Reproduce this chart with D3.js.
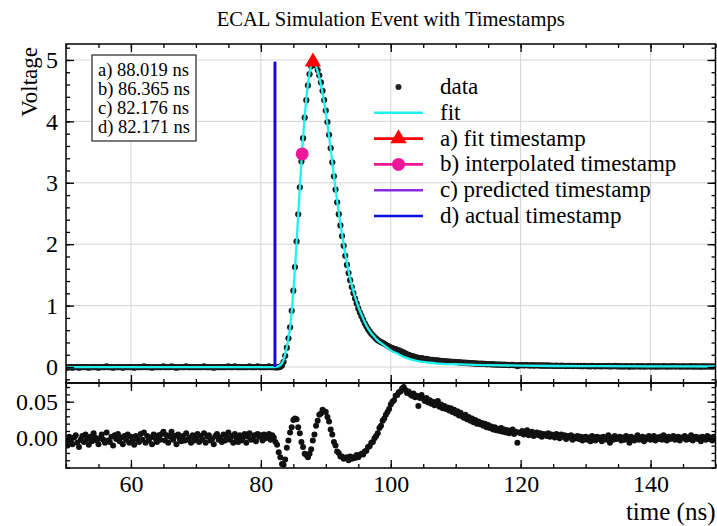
<!DOCTYPE html>
<html>
<head>
<meta charset="utf-8">
<script src="https://cdn.jsdelivr.net/npm/d3@7"></script>
<style>
  body { margin: 0; background: #fff; }
  svg { font-family: "Liberation Serif", "DejaVu Serif", serif; }
</style>
</head>
<body>
<svg id="chart" width="717" height="526"></svg>
<script>
// samples every 0.25 ns from 50 to 149.75 ns
const times = d3.range(400).map(i => 50 + i * 0.25);

const voltage = [
  0,-0.01,0,0,-0.01,0,0,0,-0.01,0,0,0,0,0,-0.01,0,0,0,0,0,
  -0.01,0,0,0,0,0.01,0,0,0,-0.01,0,0,0,0,0,-0.01,0,0,0,0,
  0,0,-0.01,0,0,0,0,0,0.01,0,0,0,0,-0.01,0,0,0,0,0,0,
  0.01,0,0,0,0,0.01,0,0,-0.01,0,0,0,0,0,0.01,0,0,0,0,0,
  0,0,0,0,0,0.01,0,0,0,0,0,-0.01,0,0,0,0,0,0,0,0,
  0.01,0,0,0,0.01,0,0,0,0,0,0,0,0,0.01,0,0,0,0,0.01,0,
  0,0,0,0,0,0.01,0,0,
  0.000,-0.004,-0.005,-0.003,0.003,0.026,0.084,0.182,0.316,0.468,
  0.647,0.916,1.244,1.628,2.045,2.486,2.926,3.346,3.727,4.060,
  4.346,4.585,4.768,4.896,4.966,4.966,4.916,4.835,4.751,4.635,
  4.498,4.348,4.176,3.990,3.782,3.563,3.334,3.106,2.889,2.683,
  2.489,2.306,2.134,1.973,1.812,1.663,1.531,1.414,1.302,1.203,
  1.114,1.036,0.955,0.886,0.828,0.769,0.711,0.664,0.617,0.580,
  0.543,0.516,0.489,0.462,0.438,0.423,0.408,0.393,0.378,0.362,
  0.346,0.331,
  0.316,0.307,0.297,0.290,0.279,0.270,0.259,0.248,0.235,0.221,0.207,0.200,0.188,0.179,0.175,0.163,0.158,0.140,0.146,0.146,
  0.137,0.131,0.132,0.122,0.122,0.114,0.115,0.107,0.108,0.109,0.099,0.101,0.094,0.096,0.090,0.091,0.086,0.088,0.082,0.084,
  0.080,0.082,0.075,0.078,0.072,0.069,0.072,0.065,0.067,0.061,0.064,0.058,0.060,0.055,0.057,0.053,0.054,0.050,0.052,0.047,
  0.049,0.045,0.046,0.042,0.044,0.040,0.041,0.038,0.041,0.036,0.038,0.034,0.036,0.032,0.034,0.036,0.029,0.032,0.016,0.030,
  0.029,0.032,0.027,0.030,0.033,0.025,0.028,0.030,0.024,0.027,0.029,0.025,0.027,0.022,0.026,0.024,0.022,0.026,0.021,0.024,
  0.021,0.018,0.023,0.020,0.017,0.022,0.019,0.021,0.016,0.020,0.018,0.021,0.015,0.019,0.017,0.020,0.016,0.019,0.014,0.018,
  0.017,0.013,0.016,0.011,0.018,0.015,0.012,0.017,0.014,0.016,0.011,0.017,0.015,0.013,0.019,0.009,0.016,0.013,0.018,0.014,
  0.012,0.014,0.009,0.013,0.010,0.015,0.011,0.006,0.014,0.012,0.009,0.013,0.016,0.010,0.012,0.014,0.008,0.013,0.011,0.015,
  0.009,0.011,0.014,0.008,0.012,0.010,0.013,0.009,0.015,0.011,0.008,0.013,0.010,0.012,0.014,0.009,0.011,0.013,0.008,0.012,
  0.010,0.013,0.008,0.011,0.009,0.014,0.007,0.010,0.012,0.009,0.011,0.006,0.012,0.010,0.008,0.013,0.009,0.011,0.007,0.012
];

const residual = [
  -0.004,-0.010,0.002,-0.003,-0.008,0.001,0.004,-0.006,-0.012,-0.002,0.003,-0.005,0.005,-0.001,-0.009,0.002,-0.004,0.007,0.001,-0.003,
  -0.008,0.000,0.005,-0.002,-0.006,0.008,-0.003,-0.005,0.002,-0.010,0.004,-0.001,0.006,-0.004,0.001,-0.008,0.003,-0.002,0.005,-0.006,
  0.002,-0.004,-0.009,0.003,-0.001,-0.005,0.006,-0.002,0.008,-0.006,0.003,-0.003,0.001,-0.008,0.005,0.000,-0.005,0.004,-0.002,0.006,
  0.009,-0.003,0.004,-0.006,0.002,0.009,-0.002,0.003,-0.008,0.005,-0.001,-0.004,0.003,-0.003,0.007,-0.002,0.001,-0.006,0.004,-0.003,
  0.000,0.006,-0.005,0.003,-0.002,0.007,-0.006,0.002,0.004,-0.003,-0.001,-0.008,0.003,0.006,-0.002,0.001,-0.005,0.005,-0.003,0.002,
  0.008,-0.002,0.003,-0.006,0.006,0.000,-0.005,0.004,-0.003,0.001,0.006,-0.006,0.002,0.007,-0.002,-0.001,0.004,-0.004,0.006,0.002,
  0.004,-0.003,0.005,0.000,0.003,0.006,-0.002,0.004,
  0.001,-0.005,-0.009,-0.019,-0.026,-0.035,-0.036,-0.029,-0.013,-0.003,
  0.008,0.015,0.025,0.027,0.026,0.015,0.007,-0.005,-0.012,-0.021,
  -0.023,-0.026,-0.021,-0.015,-0.003,0.005,0.017,0.024,0.032,0.034,
  0.039,0.037,0.036,0.029,0.023,0.012,0.005,-0.005,-0.010,-0.018,
  -0.020,-0.025,-0.025,-0.028,-0.027,-0.026,-0.030,-0.025,-0.028,-0.026,
  -0.027,-0.023,-0.026,-0.023,-0.021,-0.022,-0.018,-0.017,-0.012,-0.011,
  -0.006,-0.005,0.000,0.003,0.007,0.014,0.017,0.024,0.027,0.032,
  0.036,0.040,
  0.046,0.050,0.052,0.058,0.059,0.063,0.064,0.068,0.070,0.066,0.062,0.064,0.060,0.058,0.061,0.056,0.058,0.044,0.055,0.059,
  0.054,0.051,0.055,0.049,0.052,0.047,0.050,0.045,0.048,0.051,0.043,0.046,0.041,0.044,0.040,0.042,0.038,0.041,0.036,0.039,
  0.034,0.037,0.031,0.035,0.030,0.028,0.032,0.026,0.029,0.024,0.027,0.022,0.025,0.020,0.023,0.019,0.021,0.017,0.020,0.015,
  0.018,0.014,0.016,0.012,0.015,0.011,0.013,0.010,0.014,0.009,0.012,0.008,0.011,0.007,0.010,0.012,0.006,0.009,-0.006,0.008,
  0.007,0.010,0.005,0.008,0.011,0.004,0.007,0.009,0.003,0.006,0.008,0.004,0.007,0.002,0.006,0.005,0.003,0.007,0.002,0.005,
  0.004,0.001,0.006,0.003,0.000,0.005,0.002,0.004,-0.001,0.003,0.001,0.004,-0.002,0.002,0.000,0.003,-0.001,0.002,-0.003,0.001,
  0.002,-0.002,0.001,-0.004,0.003,0.000,-0.003,0.002,-0.001,0.001,-0.004,0.002,0.000,-0.002,0.004,-0.006,0.001,-0.002,0.003,-0.001,
  0.000,0.002,-0.003,0.001,-0.002,0.003,-0.001,-0.006,0.002,0.000,-0.003,0.001,0.004,-0.002,0.000,0.002,-0.004,0.001,-0.001,0.003,
  -0.002,0.000,0.003,-0.003,0.001,-0.001,0.002,-0.002,0.004,0.000,-0.003,0.002,-0.001,0.001,0.003,-0.002,0.000,0.002,-0.003,0.001,
  0.000,0.003,-0.002,0.001,-0.001,0.004,-0.003,0.000,0.002,-0.001,0.001,-0.004,0.002,0.000,-0.002,0.003,-0.001,0.001,-0.003,0.002
];

// fitted pulse (cyan curve)
const fitTime = [50,82.25,82.5,82.75,83,83.25,83.5,83.75,84,84.25,84.5,84.75,85,85.25,85.5,85.75,86,86.25,86.5,86.75,
  87,87.25,87.5,87.75,88,88.25,88.5,88.75,89,89.25,89.5,89.75,90,90.25,90.5,90.75,91,91.25,91.5,91.75,
  92,92.5,93,93.5,94,94.5,95,95.5,96,96.5,97,97.5,98,98.5,99,99.5,100,101,102,103,104,105,106,107,108,110,112,115,120,125,130,140,150];
const fitVolt = [0,0,0.005,0.015,0.03,0.06,0.12,0.21,0.33,0.47,0.64,0.90,1.22,1.60,2.02,2.47,2.92,3.35,3.74,4.08,
  4.37,4.61,4.79,4.91,4.97,4.96,4.90,4.81,4.72,4.60,4.46,4.31,4.14,3.96,3.76,3.55,3.33,3.11,2.90,2.70,
  2.51,2.16,1.84,1.56,1.33,1.14,0.98,0.85,0.73,0.63,0.55,0.49,0.43,0.39,0.35,0.31,0.27,0.22,0.165,0.128,0.100,0.083,0.070,0.060,0.053,0.046,0.038,0.031,0.022,0.017,0.015,0.011,0.009];

const stampKeys = ["a", "b", "c", "d"];
const stampTimes = [88.019, 86.365, 82.176, 82.171];
const peakVolt = 4.97;      // fit maximum, also top of the vertical lines
const interpVolt = 3.47;    // level of the interpolated timestamp

const legendLabels = ["data", "fit", "a) fit timestamp", "b) interpolated timestamp",
  "c) predicted timestamp", "d) actual timestamp"];
const xTicks = [60, 80, 100, 120, 140];
const yTicks = [0, 1, 2, 3, 4, 5];
const resTicks = [0, 0.05];

if (voltage.length !== 400 || residual.length !== 400 || fitTime.length !== fitVolt.length) {
  throw new Error("array length " + voltage.length + " " + residual.length + " " + fitTime.length + " " + fitVolt.length);
}

const svg = d3.select("#chart").attr("font-family", "Liberation Serif, DejaVu Serif, serif");
const axL = 66, axR = 715.5, axT = 44, axM = 383, axB = 468;

const x = d3.scaleLinear().domain([50, 150]).range([axL, axR]);
const y = d3.scaleLinear().domain([-0.26, 5.26]).range([axM, axT]);
const yRes = d3.scaleLinear().domain([-0.0406, 0.0755]).range([axB, axM]);

const defs = svg.append("defs");
defs.append("clipPath").attr("id", "clipMain")
  .append("rect").attr("x", axL).attr("y", axT).attr("width", axR - axL).attr("height", axM - axT);
defs.append("clipPath").attr("id", "clipRes")
  .append("rect").attr("x", axL).attr("y", axM).attr("width", axR - axL).attr("height", axB - axM);

// grid in the main panel
const grid = svg.append("g").attr("stroke", "#d3d3d3").attr("stroke-width", 1);
grid.selectAll("line.gx").data(xTicks).enter().append("line")
  .attr("x1", d => x(d)).attr("x2", d => x(d)).attr("y1", axT).attr("y2", axM);
grid.selectAll("line.gy").data(yTicks).enter().append("line")
  .attr("x1", axL).attr("x2", axR).attr("y1", d => y(d)).attr("y2", d => y(d));

const main = svg.append("g").attr("clip-path", "url(#clipMain)");

main.append("g").selectAll("circle").data(times).enter().append("circle")
  .attr("cx", d => x(d))
  .attr("cy", (d, i) => y(voltage[i]))
  .attr("r", 3.1)
  .attr("fill", "#1a1a1a");

main.append("path")
  .datum(fitTime.map((t, i) => [t, fitVolt[i]]))
  .attr("fill", "none")
  .attr("stroke", "#1ff0f0")
  .attr("stroke-width", 2.3)
  .attr("d", d3.line().x(d => x(d[0])).y(d => y(d[1])).curve(d3.curveMonotoneX));

// c) predicted and d) actual timestamps as vertical lines
const vColors = ["#8a2be2", "#0b0bdc"];
main.selectAll("line.vstamp").data([stampTimes[2], stampTimes[3]]).enter().append("line")
  .attr("x1", d => x(d)).attr("x2", d => x(d))
  .attr("y1", y(0)).attr("y2", y(peakVolt))
  .attr("stroke", (d, i) => vColors[i])
  .attr("stroke-width", 2.6);

main.append("circle")
  .attr("cx", x(stampTimes[1])).attr("cy", y(interpVolt)).attr("r", 6.5)
  .attr("fill", "#f0189a");

main.append("path")
  .attr("transform", `translate(${x(stampTimes[0])},${y(peakVolt)})`)
  .attr("d", d3.symbol().type(d3.symbolTriangle).size(115)())
  .attr("fill", "#ff0000");

// residual panel
svg.append("g").attr("clip-path", "url(#clipRes)")
  .selectAll("circle").data(times).enter().append("circle")
  .attr("cx", d => x(d))
  .attr("cy", (d, i) => yRes(residual[i]))
  .attr("r", 3)
  .attr("fill", "#111");

// axes with inward ticks on all four sides
const xMinor = d3.range(50, 151, 5);
const yMinor = d3.range(-1, 27).map(i => +(i * 0.2).toFixed(1));
const resMinor = d3.range(-4, 8).map(i => +(i * 0.01).toFixed(2));

function frameAxes(yScale, y0, y1, major, minor, fmt, xLabels) {
  const add = (axis, tx, ty) => {
    const g = svg.append("g").attr("transform", `translate(${tx},${ty})`).call(axis);
    g.select(".domain").remove();
    g.selectAll("line").attr("stroke", "#000").attr("stroke-width", 1.3);
    g.selectAll("text").attr("font-size", 24).attr("fill", "#000");
    g.attr("font-family", null);
    return g;
  };
  add(d3.axisLeft(yScale).tickValues(major).tickSize(-8).tickPadding(8).tickFormat(fmt), axL, 0);
  add(d3.axisLeft(yScale).tickValues(minor).tickSize(-4).tickFormat(""), axL, 0);
  add(d3.axisRight(yScale).tickValues(major).tickSize(-8).tickFormat(""), axR, 0);
  add(d3.axisRight(yScale).tickValues(minor).tickSize(-4).tickFormat(""), axR, 0);
  add(d3.axisBottom(x).tickValues(xTicks).tickSize(-8).tickPadding(7)
    .tickFormat(xLabels ? d3.format("d") : ""), 0, y1);
  add(d3.axisBottom(x).tickValues(xMinor).tickSize(-4).tickFormat(""), 0, y1);
  add(d3.axisTop(x).tickValues(xTicks).tickSize(-8).tickFormat(""), 0, y0);
  add(d3.axisTop(x).tickValues(xMinor).tickSize(-4).tickFormat(""), 0, y0);
  svg.append("rect")
    .attr("x", axL).attr("y", y0).attr("width", axR - axL).attr("height", y1 - y0)
    .attr("fill", "none").attr("stroke", "#000").attr("stroke-width", 1.5);
}

frameAxes(y, axT, axM, yTicks, yMinor, d3.format("d"), false);
frameAxes(yRes, axM, axB, resTicks, resMinor, d3.format(".2f"), true);

// titles and axis labels
svg.append("text")
  .attr("x", (axL + axR) / 2).attr("y", 26)
  .attr("text-anchor", "middle").attr("font-size", 20.6)
  .text("ECAL Simulation Event with Timestamps");

svg.append("text")
  .attr("transform", "rotate(-90)")
  .attr("x", -47).attr("y", 37)
  .attr("text-anchor", "end").attr("font-size", 23)
  .text("Voltage");

svg.append("text")
  .attr("x", axR).attr("y", 520)
  .attr("text-anchor", "end").attr("font-size", 25)
  .text("time (ns)");

// timestamp box
const box = svg.append("g");
box.append("rect")
  .attr("x", 92).attr("y", 55).attr("width", 104).attr("height", 86)
  .attr("fill", "#fff").attr("stroke", "#333").attr("stroke-width", 1.3);
box.selectAll("text").data(stampTimes).enter().append("text")
  .attr("x", 98).attr("y", (d, i) => 76 + i * 19)
  .attr("font-size", 18.5)
  .text((d, i) => `${stampKeys[i]}) ${d3.format(".3f")(d)} ns`);

// legend
const legend = svg.append("g");
const rowY = i => 87 + i * 25.8;
const lx0 = 374, lx1 = 423, lxc = 398.5;
const lineColors = [null, "#1ff0f0", "#ff0000", "#f0189a", "#8a2be2", "#0b0bdc"];

legend.append("circle").attr("cx", lxc).attr("cy", rowY(0)).attr("r", 3).attr("fill", "#222");
legend.selectAll("line").data(lineColors.slice(1)).enter().append("line")
  .attr("x1", lx0).attr("x2", lx1)
  .attr("y1", (d, i) => rowY(i + 1)).attr("y2", (d, i) => rowY(i + 1))
  .attr("stroke", d => d).attr("stroke-width", 2.6);
legend.append("path")
  .attr("transform", `translate(${lxc},${rowY(2)})`)
  .attr("d", d3.symbol().type(d3.symbolTriangle).size(115)())
  .attr("fill", "#ff0000");
legend.append("circle").attr("cx", lxc).attr("cy", rowY(3)).attr("r", 6.5).attr("fill", "#f0189a");
legend.selectAll("text").data(legendLabels).enter().append("text")
  .attr("x", 440).attr("y", (d, i) => rowY(i) + 7)
  .attr("font-size", 23)
  .text(d => d);
</script>
</body>
</html>
